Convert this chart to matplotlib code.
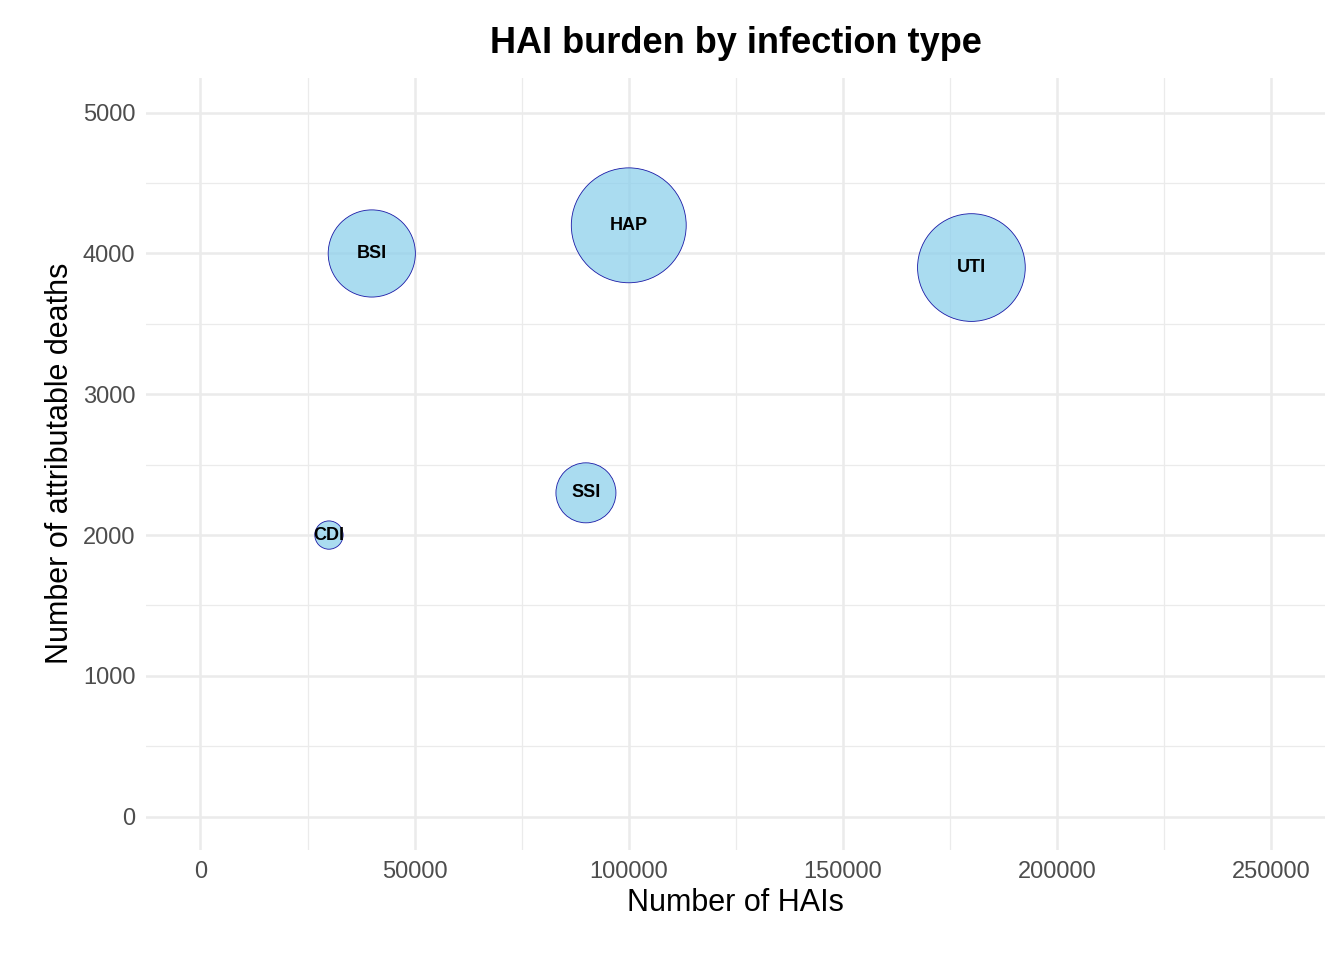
import matplotlib.pyplot as plt
import numpy as np

plt.rcParams["font.family"] = ["Liberation Sans", "DejaVu Sans"]

infection = ["BSI", "HAP", "UTI", "SSI", "CDI"]
n_hais = [40000, 100000, 180000, 90000, 30000]
deaths = [4000, 4200, 3900, 2300, 2000]
burden = [1900, 3300, 2900, 900, 200]  # bubble size variable (area)

fig = plt.figure(figsize=(13.44, 9.6), dpi=100)
ax = fig.add_axes([0.109, 0.115, 0.877, 0.804])

# radius in px proportional to sqrt(burden)
r_px = 1.0 * np.sqrt(np.array(burden))
s = (2 * r_px * 0.72) ** 2
ax.scatter(n_hais, deaths, s=s, facecolor="#87CEEB", alpha=0.7, edgecolor="none", zorder=3)
ax.scatter(n_hais, deaths, s=s, facecolor="none", edgecolor="#1a1aa6", linewidth=0.6, zorder=4)
for name, x, y in zip(infection, n_hais, deaths):
    ax.text(x, y, name, ha="center", va="center", fontsize=13, fontweight="bold", zorder=5)

ax.set_xlim(-12600, 262600)
ax.set_ylim(-234, 5248)
ax.set_xticks(np.arange(0, 250001, 50000))
ax.set_yticks(np.arange(0, 5001, 1000))
ax.set_xticks(np.arange(25000, 250000, 50000), minor=True)
ax.set_yticks(np.arange(500, 5000, 1000), minor=True)
ax.grid(which="major", color="#EBEBEB", linewidth=1.8)
ax.grid(which="minor", color="#EBEBEB", linewidth=0.9)
ax.set_axisbelow(True)
ax.tick_params(which="both", length=0, labelsize=17, labelcolor="#4D4D4D", pad=8)
for sp in ax.spines.values():
    sp.set_visible(False)
ax.set_xlabel("Number of HAIs", fontsize=22, labelpad=4)
ax.set_ylabel("Number of attributable deaths", fontsize=22, labelpad=6)
ax.set_title("HAI burden by infection type", fontsize=26, fontweight="bold", pad=18)
fig.savefig("out.png", dpi=100)
